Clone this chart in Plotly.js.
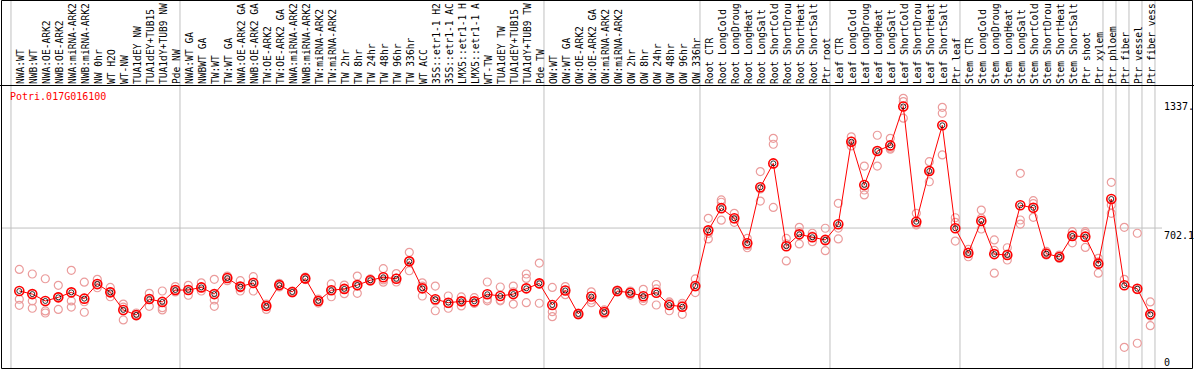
<!DOCTYPE html>
<html>
<head>
<meta charset="utf-8">
<script src="https://cdn.plot.ly/plotly-3.0.1.min.js"></script>
<style>html,body{margin:0;padding:0;background:#fff;}#chart{width:1194px;height:370px;}</style>
</head>
<body>
<div id="chart"></div>
<script>
const categories = [
"NWA:WT","NWB:WT","NWA:OE-ARK2","NWB:OE-ARK2","NWA:miRNA-ARK2","NWB:miRNA-ARK2","NW 0hr","WT H2O","WT-NW","TUA1dEY NW","TUA1dEY+TUB15 NW","TUA1dY+TUB9 NW","Pde NW",
"NWA:WT GA","NWBWT GA","TW:WT","TW:WT GA","NWA:OE-ARK2 GA","NWB:OE-ARK2 GA","TW:OE-ARK2","TW:OE-ARK2 GA","NWA:miRNA-ARK2 GA","NWB:miRNA-ARK2 GA","TW:miRNA-ARK2","TW:miRNA-ARK2 GA",
"TW 2hr","TW 8hr","TW 24hr","TW 48hr","TW 96hr","TW 336hr","WT ACC","35S::etr1-1 H2O","35S::etr1-1 ACC","LMX5::etr1-1 H2O","LMX5::etr1-1 ACC","WT-TW","TUA1dEY TW","TUA1dEY+TUB15 TW","TUA1dY+TUB9 TW","Pde TW",
"OW:WT","OW:WT GA","OW:OE-ARK2","OW:OE-ARK2 GA","OW:miRNA-ARK2","OW:miRNA-ARK2 GA","OW 2hr","OW 8hr","OW 24hr","OW 48hr","OW 96hr","OW 336hr",
"Root CTR","Root LongCold","Root LongDrought","Root LongHeat","Root LongSalt","Root ShortCold","Root ShortDrought","Root ShortHeat","Root ShortSalt","Ptr root",
"Leaf CTR","Leaf LongCold","Leaf LongDrought","Leaf LongHeat","Leaf LongSalt","Leaf ShortCold","Leaf ShortDrought","Leaf ShortHeat","Leaf ShortSalt","Ptr leaf",
"Stem CTR","Stem LongCold","Stem LongDrought","Stem LongHeat","Stem LongSalt","Stem ShortCold","Stem ShortDrought","Stem ShortHeat","Stem ShortSalt","Ptr shoot",
"Ptr xylem","Ptr phloem","Ptr fiber","Ptr vessel","Ptr fiber vessel"
];

const meanValues = [
373,357,321,340,366,333,410,366,274,248,331,316,378,
378,392,357,441,396,415,295,404,368,439,321,377,
384,404,429,445,437,528,387,330,312,319,319,356,347,357,387,413,
300,376,253,344,263,373,364,346,364,300,291,399,
690,806,753,623,915,1040,607,669,654,640,
722,1153,927,1105,1134,1337.6,735,1000,1239,701,
572,739,566,561,821,808,568,551,661,657,
516,854,403,385,251
];

const rep1 = [
486,462,437,403,481,419,434,392,305,258,361,373,396,
403,416,434,427,427,448,277,413,373,446,331,410,
404,451,436,490,464,575,416,399,347,342,338,420,394,399,462,519,
392,396,258,369,274,378,373,382,407,316,309,436,
753,849,779,648,997,1171,648,706,675,701,
831,1179,1026,1187,1171,1380,779,1049,1333,756,
591,796,640,599,988,845,580,561,683,683,
544,941,706,675,316
];
const rep2 = [
330,321,269,277,321,317,390,343,222,242,293,274,378,
351,373,293,451,373,373,305,394,363,433,310,343,
359,361,425,419,420,479,347,270,283,295,310,322,322,305,439,309,
265,354,248,326,253,368,352,322,300,270,251,365,
645,837,732,599,843,1140,530,619,631,584,
645,1157,875,1026,1114,1276,718,944,1302,634,
552,697,466,535,744,758,561,543,625,601,
466,779,434,100,192
];
const rep3 = [
298,283,258,342,289,262,404,368,289,248,331,286,368,
378,394,326,441,389,420,295,404,368,439,321,377,
384,399,429,431,441,530,399,321,307,321,309,331,326,368,312,410,
239,378,253,312,263,371,365,334,384,310,300,394,
674,743,749,611,906,810,619,682,660,634,
702,1131,901,1105,1120,1363,723,1003,1084,732,
577,753,585,566,723,830,572,551,666,674,
525,822,79,380,242
];

const separatorsAfter = [-1,12,40,52,62,72,83,84,85,86,87];
const yLabels = [{v:1337, t:"1337."},{v:702.1, t:"702.1"},{v:0, t:"0"}];
const geneId = "Potri.017G016100";
const labelMaxChars = 14;

const idx = categories.map((_, i) => i);
const tickText = categories.map(s => s.slice(0, labelMaxChars));
const mono = "DejaVu Sans Mono, Liberation Mono, monospace";
const repColor = "#eb9c9c";

const repX = idx.concat(idx, idx);
const repY = rep1.concat(rep2, rep3);

const traces = [
  {x: repX, y: repY, type: "scatter", mode: "markers",
   marker: {symbol: "circle-open", size: 8, color: repColor, line: {width: 1.2, color: repColor}},
   hoverinfo: "skip", showlegend: false},
  {x: idx, y: meanValues, type: "scatter", mode: "lines",
   line: {color: "#ff0000", width: 1}, hoverinfo: "skip", showlegend: false},
  {x: idx, y: meanValues, type: "scatter", mode: "markers",
   marker: {symbol: "circle-open", size: 9, color: "#ff0000", line: {width: 1.6, color: "#ff0000"}},
   hoverinfo: "skip", showlegend: false},
  {x: idx, y: meanValues, type: "scatter", mode: "markers",
   marker: {symbol: "circle-open", size: 5, color: "#000000", line: {width: 0.8, color: "#000000"}},
   hoverinfo: "skip", showlegend: false}
];

const W = 1194, H = 370;
const mL = 2, mR = 2, mT = 85, mB = 2;
const plotW = W - mL - mR, plotH = H - mT - mB;
const pxToPaperX = px => (px - mL) / plotW;
const pxToPaperY = py => (H - mB - py) / plotH;

const shapes = [];
separatorsAfter.forEach(i => {
  shapes.push({type: "line", xref: "x", yref: "paper", x0: i + 0.36, x1: i + 0.36,
    y0: 0, y1: pxToPaperY(0), line: {color: "#c0c0c0", width: 1}, layer: "below"});
});
shapes.push({type: "line", xref: "paper", yref: "y", x0: 0, x1: pxToPaperX(1162), y0: 702.1, y1: 702.1,
  line: {color: "#c0c0c0", width: 1}, layer: "below"});
shapes.push({type: "line", xref: "paper", yref: "paper", x0: pxToPaperX(0), x1: pxToPaperX(1194),
  y0: pxToPaperY(85.5), y1: pxToPaperY(85.5), line: {color: "#000", width: 1}});
shapes.push({type: "rect", xref: "paper", yref: "paper", x0: pxToPaperX(1.5), x1: pxToPaperX(1192.5),
  y0: pxToPaperY(368.5), y1: pxToPaperY(0.5), line: {color: "#000", width: 1}});

const annotations = [
  {text: geneId, xref: "paper", yref: "paper", x: pxToPaperX(8), y: pxToPaperY(97),
   xanchor: "left", yanchor: "middle", showarrow: false, font: {family: mono, size: 10, color: "#ff0000"}}
];
yLabels.forEach(l => {
  annotations.push({text: l.t, xref: "paper", yref: "y", x: pxToPaperX(1162), y: l.v,
    xanchor: "left", yanchor: l.v === 702.1 ? "top" : "middle", showarrow: false,
    font: {family: mono, size: 10, color: "#000"}});
});

const layout = {
  width: W, height: H,
  margin: {l: mL, r: mR, t: mT, b: mB, pad: 0},
  paper_bgcolor: "#fff", plot_bgcolor: "#fff",
  showlegend: false, hovermode: false,
  xaxis: {range: [-1.331, 90.208], side: "top", tickmode: "array", tickvals: idx, ticktext: tickText,
    tickangle: -90, ticks: "", showgrid: false, zeroline: false, showline: false, fixedrange: true,
    ticklabelshift: 2,
    tickfont: {family: mono, size: 9.6, color: "#000"}, automargin: false},
  yaxis: {range: [-29.3, 1449.6], showticklabels: false, showgrid: false, zeroline: false,
    showline: false, ticks: "", fixedrange: true},
  shapes: shapes,
  annotations: annotations
};

Plotly.newPlot("chart", traces, layout, {displayModeBar: false, staticPlot: true});
</script>
</body>
</html>
